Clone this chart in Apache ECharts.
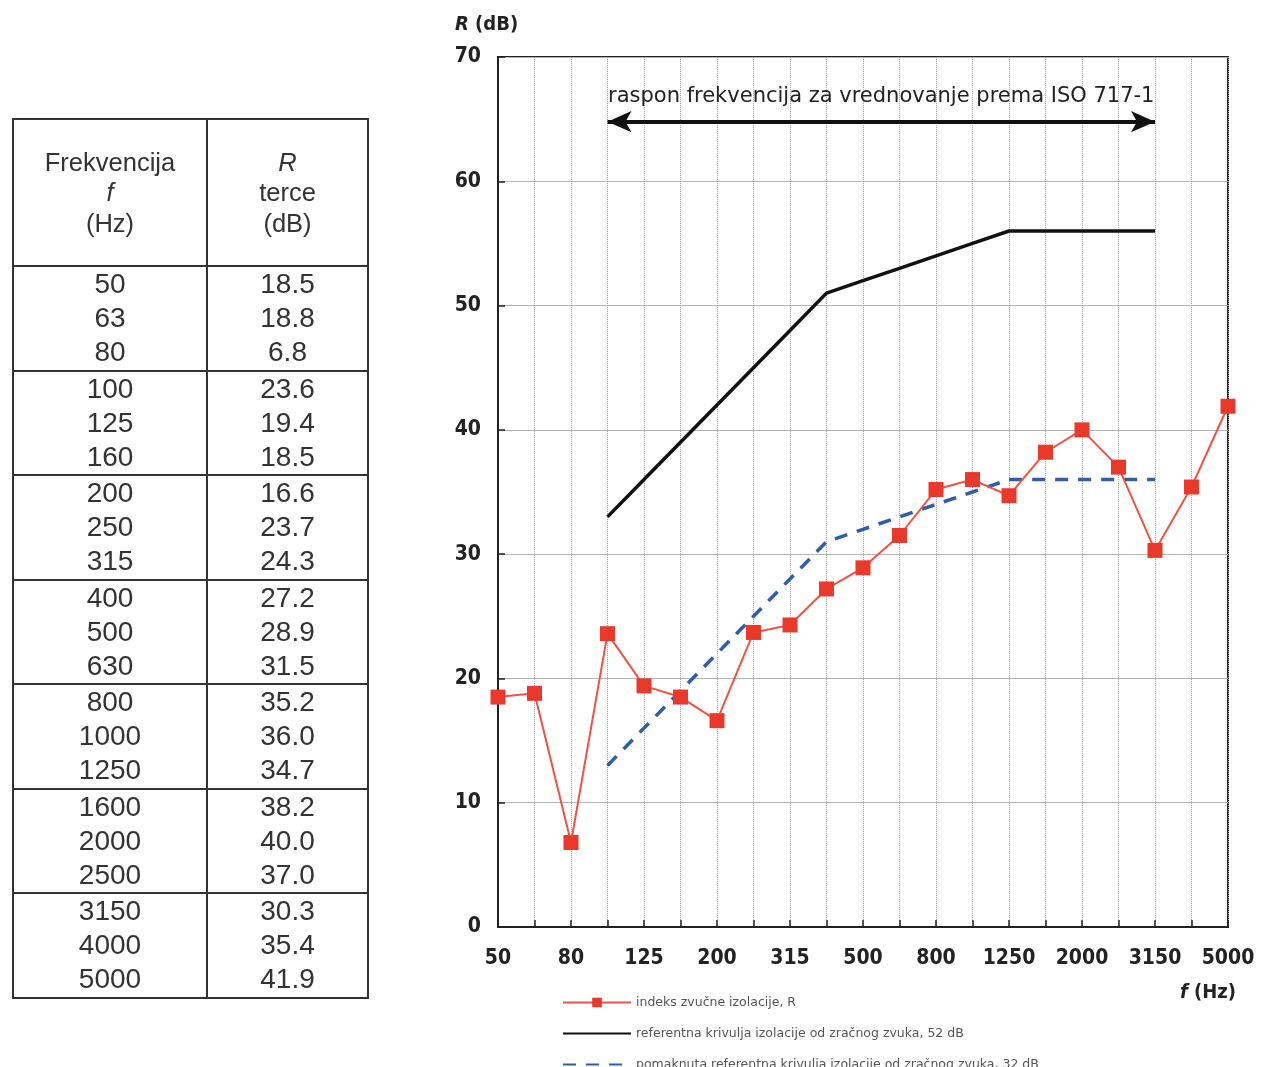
<!DOCTYPE html>
<html>
<head>
<meta charset="utf-8">
<script src="https://cdn.jsdelivr.net/npm/echarts@6/dist/echarts.min.js"></script>
<style>
  html, body { margin: 0; padding: 0; background: #fff; }
  #chart { position: absolute; left: 0; top: 0; width: 1264px; height: 1067px; }
  #tbl {
    position: absolute; left: 12px; top: 118px; width: 357px;
    border-collapse: collapse; font-family: "Liberation Sans", Arial, sans-serif;
    color: #333; text-align: center;
  }
  #tbl td { border: 2px solid #333; padding: 0; vertical-align: middle; }
  #tbl td.c1 { width: 192px; }
  #tbl tr.head td { height: 145px; font-size: 25.5px; line-height: 30.5px; }
  #tbl tr.grp td { height: 102.5px; font-size: 28px; line-height: 34px; }
</style>
</head>
<body>
<div id="chart"></div>
<table id="tbl"></table>
<script>
// Third-octave band centre frequencies (Hz)
const frequencies = ['50', '63', '80', '100', '125', '160', '200', '250', '315', '400', '500',
  '630', '800', '1000', '1250', '1600', '2000', '2500', '3150', '4000', '5000'];

// Measured sound reduction index R per band (dB)
const soundReduction = [18.5, 18.8, 6.8, 23.6, 19.4, 18.5, 16.6, 23.7, 24.3, 27.2, 28.9,
  31.5, 35.2, 36.0, 34.7, 38.2, 40.0, 37.0, 30.3, 35.4, 41.9];

// ISO 717-1 reference curve, 100–3150 Hz, rated at 52 dB
const referenceCurve52 = [null, null, null, 33, 36, 39, 42, 45, 48, 51, 52,
  53, 54, 55, 56, 56, 56, 56, 56, null, null];

// Reference curve shifted down to 32 dB
const shiftedCurve32 = [null, null, null, 13, 16, 19, 22, 25, 28, 31, 32,
  33, 34, 35, 36, 36, 36, 36, 36, null, null];

// Y axis range (dB)
const yMin = 0, yMax = 70, yStep = 10;

// Evaluation range arrow (band limits and height in dB)
const rangeStart = '100', rangeEnd = '3150', rangeLevel = 64.8;

const seriesNames = [
  'indeks zvučne izolacije, R',
  'referentna krivulja izolacije od zračnog zvuka, 52 dB',
  'pomaknuta referentna krivulja izolacije od zračnog zvuka, 32 dB'
];

// ---- table of values, three bands per row group ----
(function buildTable() {
  const tbl = document.getElementById('tbl');
  let html = '<tr class="head"><td class="c1">Frekvencija<br><i>f</i><br>(Hz)</td>' +
             '<td><i>R</i><br>terce<br>(dB)</td></tr>';
  for (let i = 0; i < frequencies.length; i += 3) {
    const f = frequencies.slice(i, i + 3);
    const r = soundReduction.slice(i, i + 3).map(v => v.toFixed(1));
    html += '<tr class="grp"><td class="c1">' + f.join('<br>') + '</td><td>' + r.join('<br>') + '</td></tr>';
  }
  tbl.innerHTML = html;
})();

// ---- chart ----
const chart = echarts.init(document.getElementById('chart'), null, { renderer: 'canvas' });
const labelFont = '"DejaVu Sans Condensed", "DejaVu Sans", sans-serif';
const textFont = '"DejaVu Sans", sans-serif';

chart.setOption({
  backgroundColor: '#fff',
  animation: false,
  grid: {
    left: 498, right: 36, top: 57, bottom: 140,
    show: true, borderColor: '#222', borderWidth: 2, backgroundColor: 'transparent'
  },
  legend: {
    orient: 'vertical', left: 557, top: 991, height: 76,
    itemWidth: 68, itemHeight: 12, itemGap: 18,
    data: [
      { name: seriesNames[0] },
      { name: seriesNames[1], itemStyle: { opacity: 0 } },
      { name: seriesNames[2], itemStyle: { opacity: 0 } }
    ],
    textStyle: { fontSize: 12.5, color: '#555', fontFamily: textFont }
  },
  xAxis: {
    type: 'category', data: frequencies, boundaryGap: false,
    axisLine: { lineStyle: { color: '#222', width: 2 } },
    axisTick: { inside: true, length: 7, interval: 0, lineStyle: { color: '#222', width: 1.5 } },
    axisLabel: { interval: 1, margin: 21, fontSize: 21, fontWeight: 'bold', color: '#222', fontFamily: labelFont },
    splitLine: { show: true, interval: 0, lineStyle: { color: '#aaa', width: 1, type: 'dotted' } }
  },
  yAxis: {
    type: 'value', min: yMin, max: yMax, interval: yStep,
    axisLine: { show: true, lineStyle: { color: '#222', width: 2 } },
    axisTick: { show: true, inside: true, length: 7, lineStyle: { color: '#222', width: 1.5 } },
    axisLabel: { margin: 17, fontSize: 21, fontWeight: 'bold', color: '#222', fontFamily: labelFont },
    splitLine: { show: true, lineStyle: { color: '#b5b5b5', width: 1 } }
  },
  graphic: [
    {
      type: 'text', left: 455, top: 15,
      style: {
        text: '{i|R} (dB)', fill: '#222', font: 'bold 20px ' + labelFont,
        rich: { i: { fontStyle: 'italic', fontWeight: 'bold', fontSize: 20, fontFamily: labelFont } }
      }
    },
    {
      type: 'text', left: 1180, top: 983,
      style: {
        text: '{i|f} (Hz)', fill: '#222', font: 'bold 20px ' + labelFont,
        rich: { i: { fontStyle: 'italic', fontWeight: 'bold', fontSize: 20, fontFamily: labelFont } }
      }
    }
  ],
  series: [
    {
      name: seriesNames[0], type: 'line', data: soundReduction, z: 5,
      symbol: 'rect', symbolSize: 15,
      itemStyle: { color: '#e8392b' },
      lineStyle: { color: '#ee5444', width: 2 }
    },
    {
      name: seriesNames[1], type: 'line', data: referenceCurve52, z: 3,
      symbol: 'none', connectNulls: false,
      itemStyle: { color: '#111' },
      lineStyle: { color: '#111', width: 3.5 },
      markLine: {
        silent: true, symbol: ['arrow', 'arrow'], symbolSize: [16, 24],
        lineStyle: { color: '#111', width: 4, type: 'solid' },
        label: {
          show: true, position: 'middle', distance: 15,
          formatter: 'raspon frekvencija za vrednovanje prema ISO 717-1',
          fontSize: 21, color: '#222', fontFamily: textFont
        },
        data: [[{ coord: [rangeStart, rangeLevel] }, { coord: [rangeEnd, rangeLevel] }]]
      }
    },
    {
      name: seriesNames[2], type: 'line', data: shiftedCurve32, z: 4,
      symbol: 'none',
      itemStyle: { color: '#2e5ea8' },
      lineStyle: { color: '#2e5ea8', width: 3.5, type: [13, 10] }
    }
  ]
});
</script>
</body>
</html>
